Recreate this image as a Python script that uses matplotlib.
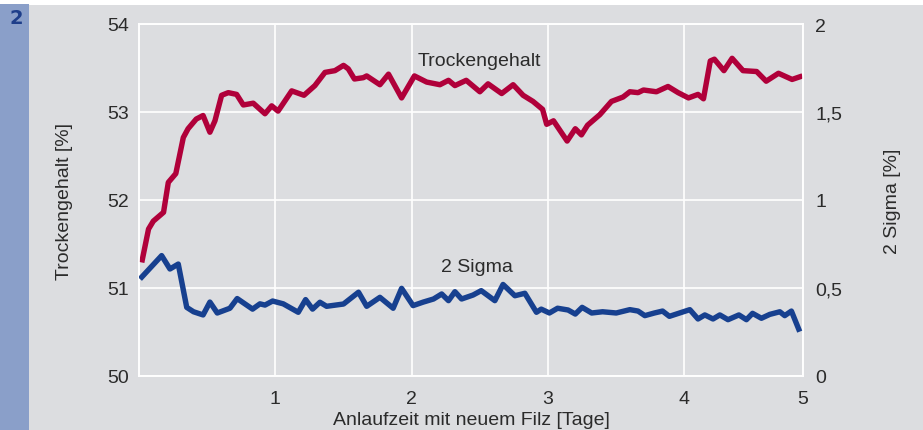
import matplotlib.pyplot as plt

# Anlaufzeit [Tage] und Trockengehalt [%]
tage_tg = [0.02, 0.07, 0.105, 0.18, 0.215, 0.27, 0.325, 0.36, 0.42, 0.47, 0.52, 0.557,
           0.606, 0.655, 0.716, 0.765, 0.838, 0.924, 0.973, 1.02, 1.12, 1.21, 1.29,
           1.364, 1.437, 1.50, 1.535, 1.58, 1.645, 1.67, 1.767, 1.83, 1.926, 2.02,
           2.11, 2.207, 2.27, 2.317, 2.40, 2.50, 2.56, 2.66, 2.744, 2.817, 2.89, 2.96,
           2.99, 3.04, 3.14, 3.20, 3.245, 3.29, 3.38, 3.465, 3.55, 3.60, 3.66, 3.70,
           3.795, 3.88, 3.954, 4.03, 4.10, 4.14, 4.19, 4.22, 4.29, 4.35, 4.43, 4.53,
           4.60, 4.69, 4.79, 4.866]
trockengehalt = [51.29, 51.67, 51.76, 51.86, 52.20, 52.30, 52.71, 52.81, 52.92, 52.96,
                 52.77, 52.90, 53.19, 53.22, 53.20, 53.08, 53.10, 52.98, 53.07, 53.01,
                 53.24, 53.19, 53.30, 53.45, 53.47, 53.53, 53.49, 53.375, 53.39, 53.41,
                 53.31, 53.43, 53.16, 53.41, 53.34, 53.31, 53.36, 53.30, 53.36, 53.23,
                 53.32, 53.21, 53.31, 53.19, 53.12, 53.03, 52.86, 52.90, 52.67, 52.81,
                 52.74, 52.85, 52.97, 53.12, 53.17, 53.23, 53.22, 53.25, 53.23, 53.29,
                 53.22, 53.16, 53.20, 53.15, 53.58, 53.60, 53.47, 53.61, 53.47, 53.46,
                 53.35, 53.44, 53.37, 53.41]

# Anlaufzeit [Tage] und 2 Sigma [%]
tage_sig = [0.007, 0.166, 0.227, 0.288, 0.35, 0.40, 0.47, 0.52, 0.574, 0.667, 0.72,
            0.833, 0.887, 0.924, 0.98, 1.058, 1.168, 1.222, 1.273, 1.327, 1.376, 1.50,
            1.61, 1.67, 1.767, 1.864, 1.926, 2.01, 2.085, 2.16, 2.22, 2.27, 2.317,
            2.366, 2.45, 2.51, 2.61, 2.67, 2.757, 2.83, 2.915, 2.95, 3.01, 3.07, 3.147,
            3.20, 3.25, 3.32, 3.40, 3.50, 3.60, 3.66, 3.71, 3.78, 3.84, 3.89, 4.04,
            4.10, 4.15, 4.21, 4.26, 4.32, 4.40, 4.455, 4.50, 4.565, 4.626, 4.70, 4.736,
            4.785, 4.846]
sigma = [0.551, 0.684, 0.608, 0.636, 0.39, 0.365, 0.347, 0.42, 0.358, 0.385, 0.44,
         0.38, 0.41, 0.403, 0.426, 0.41, 0.362, 0.434, 0.38, 0.419, 0.396, 0.409,
         0.476, 0.396, 0.447, 0.385, 0.498, 0.40, 0.42, 0.4375, 0.466, 0.428, 0.479,
         0.4375, 0.46, 0.485, 0.428, 0.52, 0.456, 0.47, 0.362, 0.38, 0.358, 0.385,
         0.375, 0.352, 0.39, 0.358, 0.365, 0.358, 0.377, 0.369, 0.343, 0.358, 0.369,
         0.339, 0.377, 0.324, 0.347, 0.324, 0.347, 0.32, 0.347, 0.32, 0.356, 0.328,
         0.35, 0.365, 0.343, 0.369, 0.252]

x_ticks = [1, 2, 3, 4, 4.87]
x_labels = ['1', '2', '3', '4', '5']
tg_ticks = [50, 51, 52, 53, 54]
sig_ticks = [0, 0.5, 1, 1.5, 2]
sig_labels = ['0', '0,5', '1', '1,5', '2']

plt.rcParams['font.family'] = ['Liberation Sans', 'DejaVu Sans']
text_col = '#2b2b2b'
bg = '#dcdde0'
red = '#b0003a'
blue = '#17408f'
fs = 14

fig = plt.figure(figsize=(9.23, 4.31), dpi=100)
fig.patch.set_facecolor('white')

# grey panel and blue side strip, behind the axes
fig.patches.append(plt.Rectangle((29 / 923, 0), 1, 1 - 6 / 431, transform=fig.transFigure,
                                 facecolor=bg, edgecolor='none', zorder=-10))
fig.patches.append(plt.Rectangle((0, 0), 29 / 923, 1 - 5 / 431, transform=fig.transFigure,
                                 facecolor='#8a9fc9', edgecolor='none', zorder=-10))
fig.text(16 / 923, 1 - 19 / 431, '2', color='#1e3e8a', fontsize=14, fontweight='heavy',
         ha='center', va='center', family=['DejaVu Sans'])

ax = fig.add_axes([139 / 923, 54 / 431, 664 / 923, 352 / 431])
ax.set_facecolor(bg)
ax2 = ax.twinx()

ax.plot(tage_tg, trockengehalt, color=red, lw=3.9, solid_capstyle='butt',
        solid_joinstyle='round', zorder=3)
ax2.plot(tage_sig, sigma, color=blue, lw=3.9, solid_capstyle='butt',
         solid_joinstyle='round', zorder=3)

ax.set_xlim(0, 4.87)
ax.set_ylim(50, 54)
ax2.set_ylim(0, 2)

ax.set_xticks(x_ticks)
ax.set_xticklabels(x_labels)
ax.set_yticks(tg_ticks)
ax.set_yticklabels([str(t) for t in tg_ticks])
ax2.set_yticks(sig_ticks)
ax2.set_yticklabels(sig_labels)

ax.grid(True, color='white', lw=1.2)
ax.set_axisbelow(True)
for a in (ax, ax2):
    for s in a.spines.values():
        s.set_color('white')
        s.set_linewidth(1.2)
    a.tick_params(length=0, labelsize=fs, colors=text_col)
ax.tick_params(axis='y', pad=7)
ax.tick_params(axis='x', pad=10)
ax2.tick_params(axis='y', pad=9)

ax.set_xlabel('Anlaufzeit mit neuem Filz [Tage]', fontsize=fs, color=text_col, labelpad=3)
ax.set_ylabel('Trockengehalt [%]', fontsize=fs, color=text_col, labelpad=25)
ax2.set_ylabel('2 Sigma [%]', fontsize=fs, color=text_col, labelpad=30)

ax.text(2.5, 53.59, 'Trockengehalt', fontsize=fs, color=text_col, ha='center', va='center')
ax2.text(2.476, 0.623, '2 Sigma', fontsize=fs, color=text_col, ha='center', va='center')

fig.savefig('out.png', dpi=100, facecolor=fig.get_facecolor())
